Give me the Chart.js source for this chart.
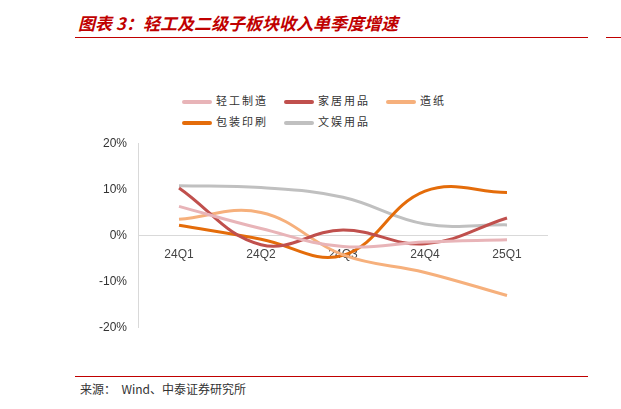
<!DOCTYPE html>
<html><head><meta charset="utf-8">
<script src="https://cdn.jsdelivr.net/npm/chart.js@4"></script>
<style>
body{margin:0;width:621px;height:409px;background:#fff;position:relative;font-family:"Noto Sans CJK SC",sans-serif;overflow:hidden}
.title{position:absolute;left:78px;top:10px;color:#c00000;font-size:17px;font-weight:bold;font-style:italic}
.tline{position:absolute;left:75px;top:37px;width:513px;height:1px;background:#c00000}
.tline2{position:absolute;left:606px;top:37px;width:15px;height:1px;background:#c00000}
.sline{position:absolute;left:75px;top:376px;width:513px;height:1px;background:#c00000}
.src{position:absolute;left:80px;top:380px;font-size:12px;color:#333}
.legend{position:absolute;left:182px;top:92px;font-size:11px;color:#333;letter-spacing:2px}
.item{position:absolute;white-space:nowrap}
.item span{display:inline-block;width:30px;height:4px;border-radius:2px;vertical-align:middle;margin-right:4px}
#wrap{position:absolute;left:96px;top:133px;width:452px;height:205px}
</style></head><body>
<div class="title">图表 3：轻工及二级子板块收入单季度增速</div>
<div class="tline"></div><div class="tline2"></div>
<div class="legend" id="legend"></div>
<div id="wrap"><canvas id="c"></canvas></div>
<div class="sline"></div>
<div class="src">来源：&nbsp; Wind、中泰证券研究所</div>
<script>
const quarters = ["24Q1", "24Q2", "24Q3", "24Q4", "25Q1"];
const lightIndustry = [6.3, 1.5, -2.4, -1.4, -0.9];
const furniture = [10.3, -2.0, 1.2, -1.8, 3.8];
const paper = [3.5, 5.0, -4.2, -8.0, -13.0];
const packaging = [2.2, -0.8, -4.3, 9.6, 9.3];
const stationery = [10.8, 10.4, 8.3, 2.5, 2.3];
const seriesNames = ["轻工制造", "家居用品", "造纸", "包装印刷", "文娱用品"];
const colors = ["#e8b4b8", "#c0504d", "#f6b07c", "#e46c0a", "#c0c0c0"];
const seriesData = [lightIndustry, furniture, paper, packaging, stationery];
const legendPos = [[0,0],[102,0],[204,0],[0,21],[102,21]];

const legend = document.getElementById("legend");
seriesNames.forEach((n, i) => {
    const d = document.createElement("div");
    d.className = "item";
    d.style.left = legendPos[i][0] + "px";
    d.style.top = legendPos[i][1] + "px";
    d.innerHTML = `<span style="background:${colors[i]}"></span>${n}`;
    legend.appendChild(d);
});

new Chart(document.getElementById("c"), {
    type: "line",
    data: {
        labels: quarters,
        datasets: seriesNames.map((n, i) => ({
            label: n,
            data: seriesData[i],
            borderColor: colors[i],
            borderWidth: 3,
            pointRadius: 0,
            tension: 0.4
        }))
    },
    options: {
        responsive: true,
        maintainAspectRatio: false,
        animation: false,
        layout: { padding: { top: 8, bottom: 8 } },
        plugins: { legend: { display: false }, tooltip: { enabled: false } },
        scales: {
            x: {
                position: { y: 0 },
                offset: true,
                grid: { display: false, drawTicks: true },
                border: { color: "#d9d9d9" },
                ticks: { color: "#444", font: { family: "Liberation Sans", size: 12 }, padding: 4 }
            },
            y: {
                min: -20, max: 20,
                grid: { display: false },
                border: { color: "#d9d9d9" },
                ticks: { stepSize: 10, color: "#333", font: { family: "Liberation Sans", size: 12 }, callback: v => v + "%" }
            }
        }
    }
});
</script>
</body></html>
